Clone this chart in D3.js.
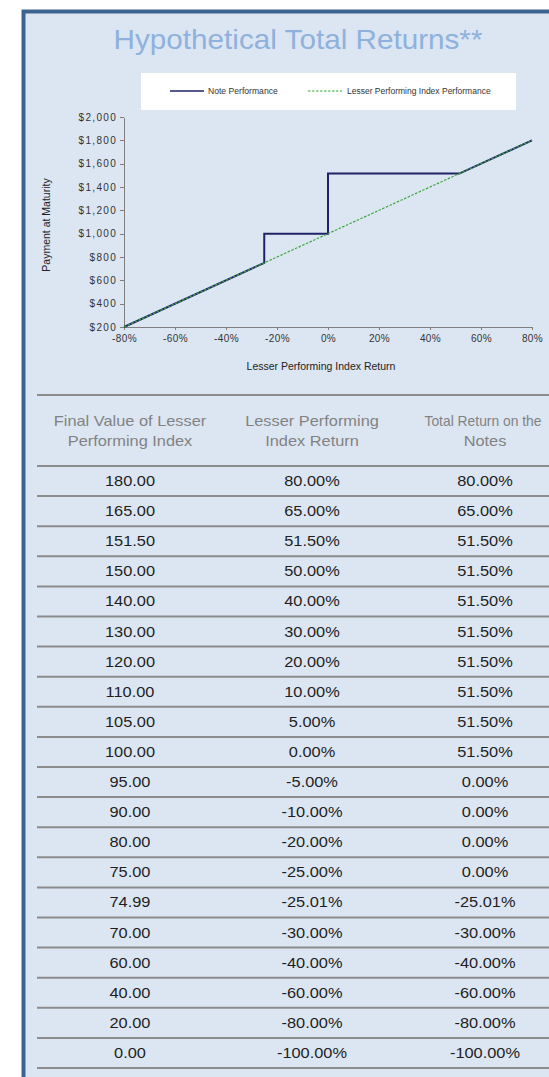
<!doctype html>
<html>
<head>
<meta charset="utf-8">
<title>Hypothetical Total Returns</title>
<script src="https://cdn.jsdelivr.net/npm/d3@7"></script>
<style>
body { margin: 0; background: #fff; }
svg { display: block; }
.ax text { font-family: "Liberation Sans", Arial, sans-serif; font-size: 10px; fill: #333; }
.ax path, .ax line { stroke: #7f7f7f; shape-rendering: crispEdges; }
.hd { font-family: "Liberation Sans", Arial, sans-serif; font-size: 14px; fill: #828282; }
.cell { font-family: "Liberation Sans", Arial, sans-serif; font-size: 14px; fill: #1e1e1e; }
</style>
</head>
<body>
<script>
// chart series (index return %, payment at maturity $)
var noteX = [-80, -25, -25, 0, 0, 51.5, 80];
var noteY = [200, 750, 1000, 1000, 1515, 1515, 1800];
var indexX = [-80, 80];
var indexY = [200, 1800];
var xTicks = [-80, -60, -40, -20, 0, 20, 40, 60, 80];
var yTicks = [200, 400, 600, 800, 1000, 1200, 1400, 1600, 1800, 2000];

// table
var headers = [["Final Value of Lesser", "Performing Index"], ["Lesser Performing", "Index Return"], ["Total Return on the", "Notes"]];
var finalValues = [180, 165, 151.5, 150, 140, 130, 120, 110, 105, 100, 95, 90, 80, 75, 74.99, 70, 60, 40, 20, 0];
var indexReturns = [80, 65, 51.5, 50, 40, 30, 20, 10, 5, 0, -5, -10, -20, -25, -25.01, -30, -40, -60, -80, -100];
var totalReturns = [80, 65, 51.5, 51.5, 51.5, 51.5, 51.5, 51.5, 51.5, 51.5, 0, 0, 0, 0, -25.01, -30, -40, -60, -80, -100];

var W = 549, H = 1077;
var font = "'Liberation Sans', Arial, sans-serif";
var svg = d3.select("body").append("svg").attr("width", W).attr("height", H);

// panel
svg.append("rect").attr("x", 23.5).attr("y", 11.5).attr("width", 600).attr("height", 1200)
  .attr("fill", "#dce6f2").attr("stroke", "#3d6490").attr("stroke-width", 4);

svg.append("text").attr("transform", "translate(298,49) scale(1.06,1)").attr("text-anchor", "middle")
  .style("font-family", font).style("font-size", "28px")
  .attr("fill", "#8eb1dd").text("Hypothetical Total Returns**");

// legend
var lg = svg.append("g");
lg.append("rect").attr("x", 141).attr("y", 73).attr("width", 375).attr("height", 37).attr("fill", "#fff");
lg.append("line").attr("x1", 170).attr("x2", 204).attr("y1", 91).attr("y2", 91).attr("stroke", "#1f2266").attr("stroke-width", 1.5);
lg.append("text").attr("x", 208).attr("y", 94).style("font-family", font).style("font-size", "8.6px").attr("fill", "#333").text("Note Performance");
lg.append("line").attr("x1", 308).attr("x2", 342).attr("y1", 91).attr("y2", 91).attr("stroke", "#3aa83a").attr("stroke-width", 1.2).attr("stroke-dasharray", "2.5,1.5");
lg.append("text").attr("x", 347).attr("y", 94).style("font-family", font).style("font-size", "8.5px").attr("fill", "#333").text("Lesser Performing Index Performance");

// chart
var x = d3.scaleLinear().domain([-80, 80]).range([124, 532]);
var y = d3.scaleLinear().domain([200, 2000]).range([327, 117]);

svg.append("g").attr("class", "ax").attr("transform", "translate(0,327)")
  .call(d3.axisBottom(x).tickValues(xTicks).tickSize(3).tickSizeOuter(0).tickPadding(5).tickFormat(function(d) { return d + "%"; }))
  .selectAll("text").style("letter-spacing", "0.4px");
svg.append("g").attr("class", "ax").attr("transform", "translate(124,0)")
  .call(d3.axisLeft(y).tickValues(yTicks).tickSize(4).tickSizeOuter(0).tickPadding(3).tickFormat(function(d) { return "$" + d3.format(",")(d); }))
  .selectAll("text").style("letter-spacing", "1.3px");

svg.append("text").attr("x", 321).attr("y", 370).attr("text-anchor", "middle")
  .style("font-family", font).style("font-size", "10.5px").attr("fill", "#222")
  .text("Lesser Performing Index Return");
svg.append("text").attr("transform", "translate(50,225) rotate(-90)").attr("text-anchor", "middle")
  .style("font-family", font).style("font-size", "10.5px").attr("fill", "#222")
  .text("Payment at Maturity");

var line = d3.line().x(function(d) { return x(d[0]); }).y(function(d) { return y(d[1]); });
svg.append("path").datum(d3.zip(noteX, noteY)).attr("d", line)
  .attr("fill", "none").attr("stroke", "#1f2266").attr("stroke-width", 2);
svg.append("path").datum(d3.zip(indexX, indexY)).attr("d", line)
  .attr("fill", "none").attr("stroke", "#3aa83a").attr("stroke-width", 1.2).attr("stroke-dasharray", "2.5,1.5");

// table
var colX = [130, 312, 485];
var rowY = d3.scaleLinear().domain([0, finalValues.length]).range([466, 1068]);
var f2 = d3.formatLocale({ decimal: ".", thousands: ",", grouping: [3], currency: ["$", ""], minus: "-" }).format(".2f");

var tb = svg.append("g");
function hline(yy) {
  tb.append("line").attr("x1", 37).attr("x2", W).attr("y1", yy).attr("y2", yy)
    .attr("stroke", "#8c8c8c").attr("stroke-width", 2);
}
hline(395);
headers.forEach(function(h, i) {
  h.forEach(function(t, j) {
    // last header line is squeezed a little so it stays inside the page
    var sx = (i === 2 && j === 0) ? 0.99 : 1.17;
    tb.append("text").attr("class", "hd")
      .attr("transform", "translate(" + (i === 2 && j === 0 ? 483 : colX[i]) + "," + (426 + j * 20) + ") scale(" + sx + ",1)")
      .attr("text-anchor", "middle").text(t);
  });
});
d3.range(finalValues.length + 1).forEach(function(i) { hline(rowY(i)); });

var rows = d3.range(finalValues.length).map(function(i) {
  return [f2(finalValues[i]), f2(indexReturns[i]) + "%", f2(totalReturns[i]) + "%"];
});
rows.forEach(function(r, i) {
  r.forEach(function(t, j) {
    tb.append("text").attr("class", "cell")
      .attr("transform", "translate(" + colX[j] + "," + (rowY(i) + 20) + ") scale(1.17,1)")
      .attr("text-anchor", "middle").text(t);
  });
});
</script>
</body>
</html>
